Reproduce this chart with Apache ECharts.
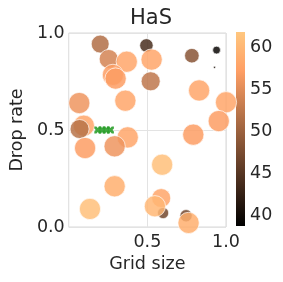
<!DOCTYPE html>
<html><head><meta charset="utf-8">
<script src="https://cdn.jsdelivr.net/npm/echarts@6/dist/echarts.min.js"></script>
<style>html,body{margin:0;padding:0;background:#fff}#c{width:283px;height:282px}</style>
</head><body><div id="c"></div>
<script>
const gridSize = [0.20,0.494,0.783,0.94,0.927,0.254,0.369,0.527,0.281,0.298,0.521,0.829,0.067,0.36,1.0,0.954,0.096,0.069,0.375,0.292,0.104,0.792,0.594,0.292,0.6,0.588,0.548,0.135,0.746,0.762];
const dropRate = [0.943,0.936,0.883,0.912,0.823,0.866,0.852,0.863,0.784,0.765,0.751,0.704,0.639,0.651,0.643,0.546,0.522,0.505,0.462,0.416,0.407,0.476,0.321,0.21,0.072,0.149,0.107,0.093,0.058,0.021];
const score = [51.5,44,48.5,39.5,41,54,58,58,57,57,52.5,58,56,58,58,57,58,52,58,56,57,57,61,59,47,58,60,61,47,59];
const markerSize = [16,12,13,7,2,17,19,19,19,19,17,19,19,19,19,19,19,17,19,19,19,19,19,19,10,17,19,19,11,19];
const bestX = [0.185,0.212,0.238,0.265];
const bestY = [0.5,0.5,0.5,0.5];
const xTicks = [0.5,1.0];
const yTicks = [0.0,0.5,1.0];
const cbTicks = [40,45,50,55,60];
const cbMin = 38.7, cbMax = 61.8;

const pts = gridSize.map((x,i)=>[x,dropRate[i],score[i],markerSize[i]]);
const best = bestX.map((x,i)=>[x,bestY[i]]);
const txt = '#262626';
const font = 'DejaVu Sans';
const fs = 17.5;
const copper = ['#000000','#40281a','#805033','#bf784c','#ff9f65','#ffc77f'];
const chart = echarts.init(document.getElementById('c'));
chart.setOption({
  animation:false,
  textStyle:{fontFamily:font},
  title:{text:'HaS',left:146,top:3,textAlign:'center',textStyle:{fontFamily:font,fontSize:21,fontWeight:'normal',color:txt}},
  grid:[{left:66,top:33,width:160,height:194,show:true,borderColor:'#d9d9d9',borderWidth:1},
        {left:236,top:32,width:9,height:194,show:false}],
  xAxis:[{type:'value',min:0,max:1,interval:0.5,gridIndex:0,
     name:'Grid size',nameLocation:'middle',nameGap:27,nameTextStyle:{fontSize:fs,color:txt,fontFamily:font},
     axisLine:{show:false},axisTick:{show:false},
     splitLine:{show:true,lineStyle:{color:'#e3e3e3',width:1}},
     axisLabel:{fontSize:fs,color:txt,margin:6,formatter:v=>xTicks.includes(v)?v.toFixed(1):''}},
    {type:'value',gridIndex:1,min:0,max:1,show:false}],
  yAxis:[{type:'value',min:0,max:1,interval:0.5,gridIndex:0,
     name:'Drop rate',nameLocation:'middle',nameGap:40,nameTextStyle:{fontSize:fs,color:txt,fontFamily:font},
     axisLine:{show:false},axisTick:{show:false},
     splitLine:{show:true,lineStyle:{color:'#e3e3e3',width:1}},
     axisLabel:{fontSize:fs,color:txt,margin:4,formatter:v=>yTicks.includes(v)?v.toFixed(1):''}},
    {type:'value',gridIndex:1,min:cbMin,max:cbMax,position:'right',
     axisLine:{show:false},axisTick:{show:false},splitLine:{show:false},
     axisLabel:{fontSize:fs,color:txt,margin:5,customValues:cbTicks,formatter:v=>String(Math.round(v))}}],
  visualMap:{type:'continuous',min:cbMin,max:cbMax,dimension:2,seriesIndex:0,show:false,
    inRange:{color:copper}},
  graphic:[{type:'rect',left:236,top:32,z:0,shape:{width:9,height:194},
    style:{fill:new echarts.graphic.LinearGradient(0,1,0,0,copper.map((c,i)=>({offset:i/(copper.length-1),color:c})))}}],
  series:[
    {type:'scatter',xAxisIndex:0,yAxisIndex:0,data:pts,
     symbolSize:d=>d[3]*1.12,
     itemStyle:{opacity:0.85,borderColor:'#ffffff',borderWidth:0.8}},
    {type:'scatter',xAxisIndex:0,yAxisIndex:0,data:best,
     symbol:'path://M0,0 L3,0 L5,2 L7,0 L10,0 L10,3 L8,5 L10,7 L10,10 L7,10 L5,8 L3,10 L0,10 L0,7 L2,5 L0,3 Z',
     symbolSize:7,itemStyle:{color:'#2ca02c',opacity:0.9}},
    {type:'scatter',xAxisIndex:1,yAxisIndex:1,data:[],silent:true}
  ]
});
</script></body></html>
